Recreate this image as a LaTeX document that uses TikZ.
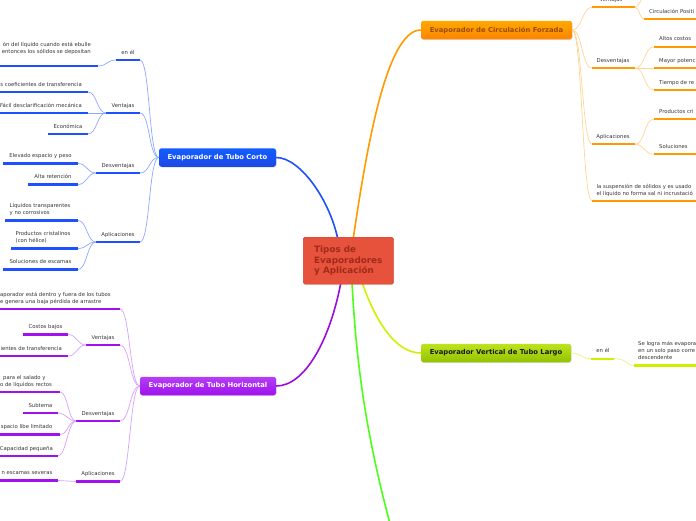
\documentclass[tikz,border=0pt]{standalone}
\usepackage{fontspec}
\setmainfont{DejaVu Sans}
\usetikzlibrary{shadows}
\definecolor{txt}{HTML}{333333}
\definecolor{blueU}{HTML}{1E50FF}
\definecolor{blueL}{HTML}{8FA8FF}
\definecolor{purU}{HTML}{A010F0}
\definecolor{purL}{HTML}{D8A0FF}
\definecolor{oraU}{HTML}{FF9A00}
\definecolor{oraL}{HTML}{FFD595}
\definecolor{ygU}{HTML}{CCF000}
\definecolor{ygL}{HTML}{E2F58A}
\definecolor{ygTop}{HTML}{BDE41E}
\definecolor{ygBot}{HTML}{94C200}
\definecolor{grnM}{HTML}{4CFF1A}
\definecolor{cenF}{HTML}{E6523C}
\definecolor{cenD}{HTML}{D4432E}
\definecolor{cenT}{HTML}{A02A1A}
\newcommand\ulab[7]{%
  \coordinate (#1-l) at (#2,#4);
  \coordinate (#1-r) at (#3,#4);
  \draw[ul] (#1-l) -- (#1-r);
  \node[lab,#6] (#1) at (#5,{#4-3.5}) {#7\strut};
}
\tikzset{
  lab/.style={font=\fontsize{5.3}{7}\selectfont, text=txt, inner sep=0pt},
  topicbox/.style={rounded corners=2.5pt, minimum height=18.5pt, inner sep=0pt,
    font=\bfseries\fontsize{6.8}{8}\selectfont,
    drop shadow={shadow xshift=0.6pt, shadow yshift=-0.8pt, opacity=0.25}},
  mainline/.style={line width=1.6pt},
}
\begin{document}
\begin{tikzpicture}[x=1pt,y=-1pt]
\useasboundingbox (0,0) rectangle (696,520);
\clip (0,0) rectangle (696,520);

% central node coordinates
\coordinate (cB) at (338,240);
\coordinate (cO) at (353,240);
\coordinate (cP) at (341,282);
\coordinate (cG) at (352,282);
\coordinate (cY) at (362,282);
\coordinate (gEnd) at (393,535);

% main topic nodes
\node[topicbox, minimum width=117pt, top color=blue!55!cyan!40!blueU, bottom color=blueU!90!black, text=white] (BT) at (217.5,157.5) {Evaporador de Tubo Corto};
\node[topicbox, minimum width=151pt, top color=oraU!85!yellow, bottom color=oraU!85!red, text=orange!60!black] (OT) at (496.5,30) {Evaporador de Circulación Forzada};
\node[topicbox, minimum width=136pt, top color=purU!80!white, bottom color=purU, text=white] (PT) at (208,386) {Evaporador de Tubo Horizontal};
\node[topicbox, minimum width=150pt, top color=ygTop, bottom color=ygBot, text=black!90] (GT) at (496,353) {Evaporador Vertical de Tubo Largo};

% main branches
\draw[mainline, blueU] (cB) .. controls (330,200) and (300,157.5) .. (BT.east);
\draw[mainline, oraU] (cO) .. controls (365,160) and (385,30) .. (OT.west);
\draw[mainline, purU!80!violet] (cP) .. controls (330,340) and (305,386) .. (PT.east);
\draw[mainline, ygU!90!yellow] (cY) .. controls (375,320) and (395,353) .. (GT.west);
\draw[mainline, grnM] (cG) .. controls (357,380) and (370,450) .. (gEnd);

% central node
\node[draw=cenD, fill=cenF, rounded corners=1.5pt, minimum width=90pt, minimum height=47pt,
  inner sep=0pt, align=left, text=cenT, font=\bfseries\fontsize{8.8}{10.5}\selectfont,
  drop shadow={shadow xshift=0.6pt, shadow yshift=-0.8pt, opacity=0.2}] (C) at (348.3,260.7)
  {Tipos de\\Evaporadores\\y Aplicación};

% ---------- Blue branch ----------
\begin{scope}[ul/.style={line width=2.2pt, draw=blueU}, con/.style={line width=0.7pt, draw=blueL}]
\ulab{b1}{116}{140}{60}{128}{anchor=south}{en él}
\ulab{b1a}{-5}{98}{66}{91}{anchor=south east, align=right}{ón del líquido cuando está ebulle\\entonces los sólidos se depositan\\}
\ulab{b2}{106}{140}{113}{123}{anchor=south}{Ventajas}
\ulab{b2a}{-5}{88}{92}{82}{anchor=south east}{s coeficientes de transferencia}
\ulab{b2b}{-5}{88}{113}{82}{anchor=south east}{Fácil desclarificación mecánica}
\ulab{b2c}{48}{88}{134}{68}{anchor=south}{Económica}
\ulab{b3}{96}{140}{173}{118}{anchor=south}{Desventajas}
\ulab{b3a}{3}{78}{163.5}{40.5}{anchor=south}{Elevado espacio y peso}
\ulab{b3b}{28}{78}{184.5}{53}{anchor=south}{Alta retención}
\ulab{b4}{96}{140}{242}{118}{anchor=south}{Aplicaciones}
\ulab{b4a}{5}{78}{220.5}{9.5}{anchor=south west, align=left}{Líquidos transparentes\\y no corrosivos}
\ulab{b4b}{11}{78}{248.5}{15.5}{anchor=south west, align=left}{Productos cristalinos\\(con hélice)}
\ulab{b4c}{3}{78}{269.5}{40.5}{anchor=south}{Soluciones de escamas}
\foreach \k in {b1,b2,b3,b4}
  \draw[con] (BT.west) .. controls +(-10,0) and +(10,0) .. (\k-r);
\draw[con] (b1-l) .. controls +(-9,0) and +(9,0) .. (b1a-r);
\foreach \k in {b2a,b2b,b2c}
  \draw[con] (b2-l) .. controls +(-9,0) and +(9,0) .. (\k-r);
\foreach \k in {b3a,b3b}
  \draw[con] (b3-l) .. controls +(-9,0) and +(9,0) .. (\k-r);
\foreach \k in {b4a,b4b,b4c}
  \draw[con] (b4-l) .. controls +(-9,0) and +(9,0) .. (\k-r);
\end{scope}

% ---------- Purple branch ----------
\begin{scope}[ul/.style={line width=2.2pt, draw=purU}, con/.style={line width=0.7pt, draw=purL}]
\ulab{p0}{-5}{120}{309}{0}{anchor=south west, align=left}{aporador está dentro y fuera de los tubos\\e genera una baja pérdida de arrastre}
\ulab{p1}{86}{120}{345}{103}{anchor=south}{Ventajas}
\ulab{p1a}{23}{68}{334.5}{45.5}{anchor=south}{Costos bajos}
\ulab{p1b}{-5}{68}{356}{62}{anchor=south east}{ientes de transferencia}
\ulab{p2}{76}{120}{421}{98}{anchor=south}{Desventajas}
\ulab{p2a}{-5}{60}{392}{0}{anchor=south west, align=left}{\hspace*{3pt}para el salado y\\o de líquidos rectos}
\ulab{p2b}{23}{58}{413}{40.5}{anchor=south}{Subtema}
\ulab{p2c}{-5}{60}{434.5}{52.5}{anchor=south east}{spacio libe limitado}
\ulab{p2d}{-5}{58}{456}{53}{anchor=south east}{Capacidad pequeña}
\ulab{p3}{76}{120}{481.5}{98}{anchor=south}{Aplicaciones}
\ulab{p3a}{-5}{58}{480.5}{52.5}{anchor=south east}{n escamas severas}
\foreach \k in {p0,p1,p2,p3}
  \draw[con] (PT.west) .. controls +(-10,0) and +(10,0) .. (\k-r);
\foreach \k in {p1a,p1b}
  \draw[con] (p1-l) .. controls +(-9,0) and +(9,0) .. (\k-r);
\foreach \k in {p2a,p2b,p2c,p2d}
  \draw[con] (p2-l) .. controls +(-8,0) and +(8,0) .. (\k-r);
\draw[con] (p3-l) .. controls +(-9,0) and +(9,0) .. (p3a-r);
\end{scope}

% ---------- Orange branch ----------
\begin{scope}[ul/.style={line width=2.2pt, draw=oraU}, con/.style={line width=0.7pt, draw=oraL}]
\ulab{o1}{592}{635}{7.3}{611}{anchor=south}{Ventajas}
\coordinate (o1a-l) at (652,-16);
\ulab{o1b}{644}{700}{19}{649}{anchor=south west}{Circulación Positi}
\ulab{o2}{592}{635}{68.3}{613}{anchor=south}{Desventajas}
\ulab{o2a}{654}{700}{46.7}{659}{anchor=south west}{Altos costos}
\ulab{o2b}{654}{700}{68.3}{659}{anchor=south west}{Mayor potenc}
\ulab{o2c}{654}{700}{90}{659}{anchor=south west}{Tiempo de re}
\ulab{o3}{592}{635}{144.3}{613}{anchor=south}{Aplicaciones}
\ulab{o3a}{654}{700}{119}{659}{anchor=south west}{Productos cri}
\ulab{o3b}{654}{700}{154.3}{659}{anchor=south west}{Soluciones}
\ulab{o4}{592}{700}{201}{596.5}{anchor=south west, align=left}{la suspensión de sólidos y es usado\\el líquido no forma sal ni incrustació}
\foreach \k in {o1,o2,o3,o4}
  \draw[con] (OT.east) .. controls +(10,0) and +(-10,0) .. (\k-l);
\foreach \k in {o1a,o1b}
  \draw[con] (o1-r) .. controls +(5,0) and +(-5,0) .. (\k-l);
\foreach \k in {o2a,o2b,o2c}
  \draw[con] (o2-r) .. controls +(10,0) and +(-10,0) .. (\k-l);
\foreach \k in {o3a,o3b}
  \draw[con] (o3-r) .. controls +(10,0) and +(-10,0) .. (\k-l);
\end{scope}

% ---------- Yellow-green branch ----------
\begin{scope}[ul/.style={line width=2.2pt, draw=ygU}, con/.style={line width=0.7pt, draw=ygL}]
\ulab{g1}{591}{614}{358.7}{603}{anchor=south}{en él}
\ulab{g1a}{634}{700}{365.5}{638}{anchor=south west, align=left}{Se logra más evapora\\en un solo paso corre\\descendente}
\draw[con] (GT.east) .. controls +(10,0) and +(-10,0) .. (g1-l);
\draw[con] (g1-r) .. controls +(14,0) and +(-8,0) .. (g1a-l);
\end{scope}
\end{tikzpicture}
\end{document}
